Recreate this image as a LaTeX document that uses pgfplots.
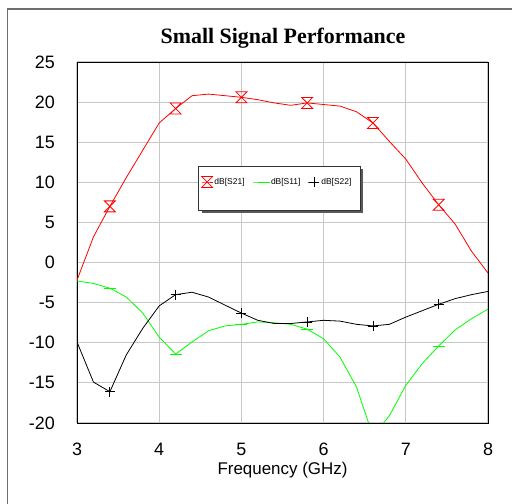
\documentclass[border=0pt]{standalone}
\usepackage{pgfplots}
\pgfplotsset{compat=1.18}
\usepackage{fontspec}
\setmainfont{Liberation Sans}
\newfontfamily\titlefont{Liberation Serif}

\definecolor{gridgray}{RGB}{200,200,200}
\definecolor{framegray}{RGB}{110,110,110}

% hourglass marker used for S21
\pgfdeclareplotmark{hourglass}{%
  \pgfpathmoveto{\pgfqpoint{-\pgfplotmarksize}{\pgfplotmarksize}}%
  \pgfpathlineto{\pgfqpoint{\pgfplotmarksize}{\pgfplotmarksize}}%
  \pgfpathlineto{\pgfqpoint{-\pgfplotmarksize}{-\pgfplotmarksize}}%
  \pgfpathlineto{\pgfqpoint{\pgfplotmarksize}{-\pgfplotmarksize}}%
  \pgfpathclose
  \pgfusepathqstroke}

\pgfplotstableread{
f     s21    s11    s22
3.0  -2.2   -2.3   -9.9
3.2   3.2   -2.6  -14.9
3.4   7.0   -3.2  -16.1
3.6  10.6   -4.3  -11.5
3.8  14.0   -6.3   -8.2
4.0  17.4   -9.3   -5.4
4.2  19.2  -11.4   -4.0
4.4  20.8   -9.9   -3.7
4.6  21.0   -8.5   -4.3
4.8  20.8   -7.9   -5.3
5.0  20.6   -7.7   -6.3
5.2  20.3   -7.4   -7.2
5.4  19.9   -7.5   -7.6
5.6  19.6   -7.7   -7.6
5.8  19.9   -8.3   -7.4
6.0  19.7   -9.5   -7.2
6.2  19.5  -11.8   -7.3
6.4  18.8  -15.5   -7.7
6.6  17.4  -21.6   -7.9
6.8  15.1  -19.1   -7.7
7.0  12.9  -15.3   -6.8
7.2   9.9  -12.6   -6.0
7.4   7.2  -10.4   -5.2
7.6   4.8   -8.4   -4.5
7.8   1.4   -7.0   -4.0
8.0  -1.3   -5.8   -3.6
}\sparams

\begin{document}
\begin{tikzpicture}
\useasboundingbox (0,0) rectangle (512bp,504bp);
% outer frame (runs off the right and bottom edges)
\draw[framegray, line width=1.5bp] (7.5bp,-20bp) -- (7.5bp,495bp) -- (530bp,495bp);
\node[anchor=base, font=\titlefont\bfseries\fontsize{22}{25}\selectfont] at (283bp,460bp) {Small Signal Performance};
\begin{axis}[
    at={(77bp,81bp)}, anchor=south west,
    width=411bp, height=361bp, scale only axis,
    xmin=3, xmax=8, ymin=-20, ymax=25,
    xtick={3,4,...,8}, ytick={-20,-15,...,25},
    grid=major,
    grid style={gridgray, line width=1.2bp},
    axis line style={black, line width=0.9bp},
    major tick length=0pt,
    tick label style={font=\fontsize{18}{20}\selectfont},
    /pgf/number format/assume math mode=true,
    xticklabel style={anchor=north, inner sep=0pt, yshift=-20bp},
    yticklabel style={anchor=east, inner sep=0pt, xshift=-22bp},
    xlabel={Frequency (GHz)},
    xlabel style={font=\fontsize{17}{20}\selectfont, anchor=base,
      at={(axis description cs:0.5,0)}, yshift=-51bp},
    legend columns=3,
    legend style={draw=none, fill=none, at={(0.3017,0.6676)}, anchor=west,
      font=\fontsize{8.5}{9}\selectfont, inner sep=0pt,
      nodes={inner sep=1.5bp},
      /tikz/every even column/.append style={column sep=6bp}},
    legend image code/.code={%
      \draw[mark repeat=2, mark phase=2] plot coordinates {(0bp,0bp) (5.5bp,0bp) (11bp,0bp)};},
]
\addplot[red, line width=0.8bp, mark=hourglass, mark size=5.5bp,
  mark repeat=4, mark phase=3, mark options={solid, line width=0.8bp}] table[x=f, y=s21] {\sparams};
\addlegendentry{dB[S21]}
\addplot[green, line width=0.8bp, mark=-, mark size=6bp,
  mark indices={3,7,11,15,22}] table[x=f, y=s11] {\sparams};
\addlegendentry{dB[S11]}
\addplot[black, line width=0.8bp, mark=+, mark size=5bp,
  mark repeat=4, mark phase=3] table[x=f, y=s22] {\sparams};
\addlegendentry{dB[S22]}
% legend box with drop shadow
\fill[black!65] ([xshift=3bp,yshift=-3bp]rel axis cs:0.2964,0.7119) rectangle ([xshift=3bp,yshift=-3bp]rel axis cs:0.6886,0.590);
\filldraw[fill=white, draw=black!80, line width=0.8bp] (rel axis cs:0.2964,0.7119) rectangle (rel axis cs:0.6886,0.590);
\end{axis}
\end{tikzpicture}
\end{document}
